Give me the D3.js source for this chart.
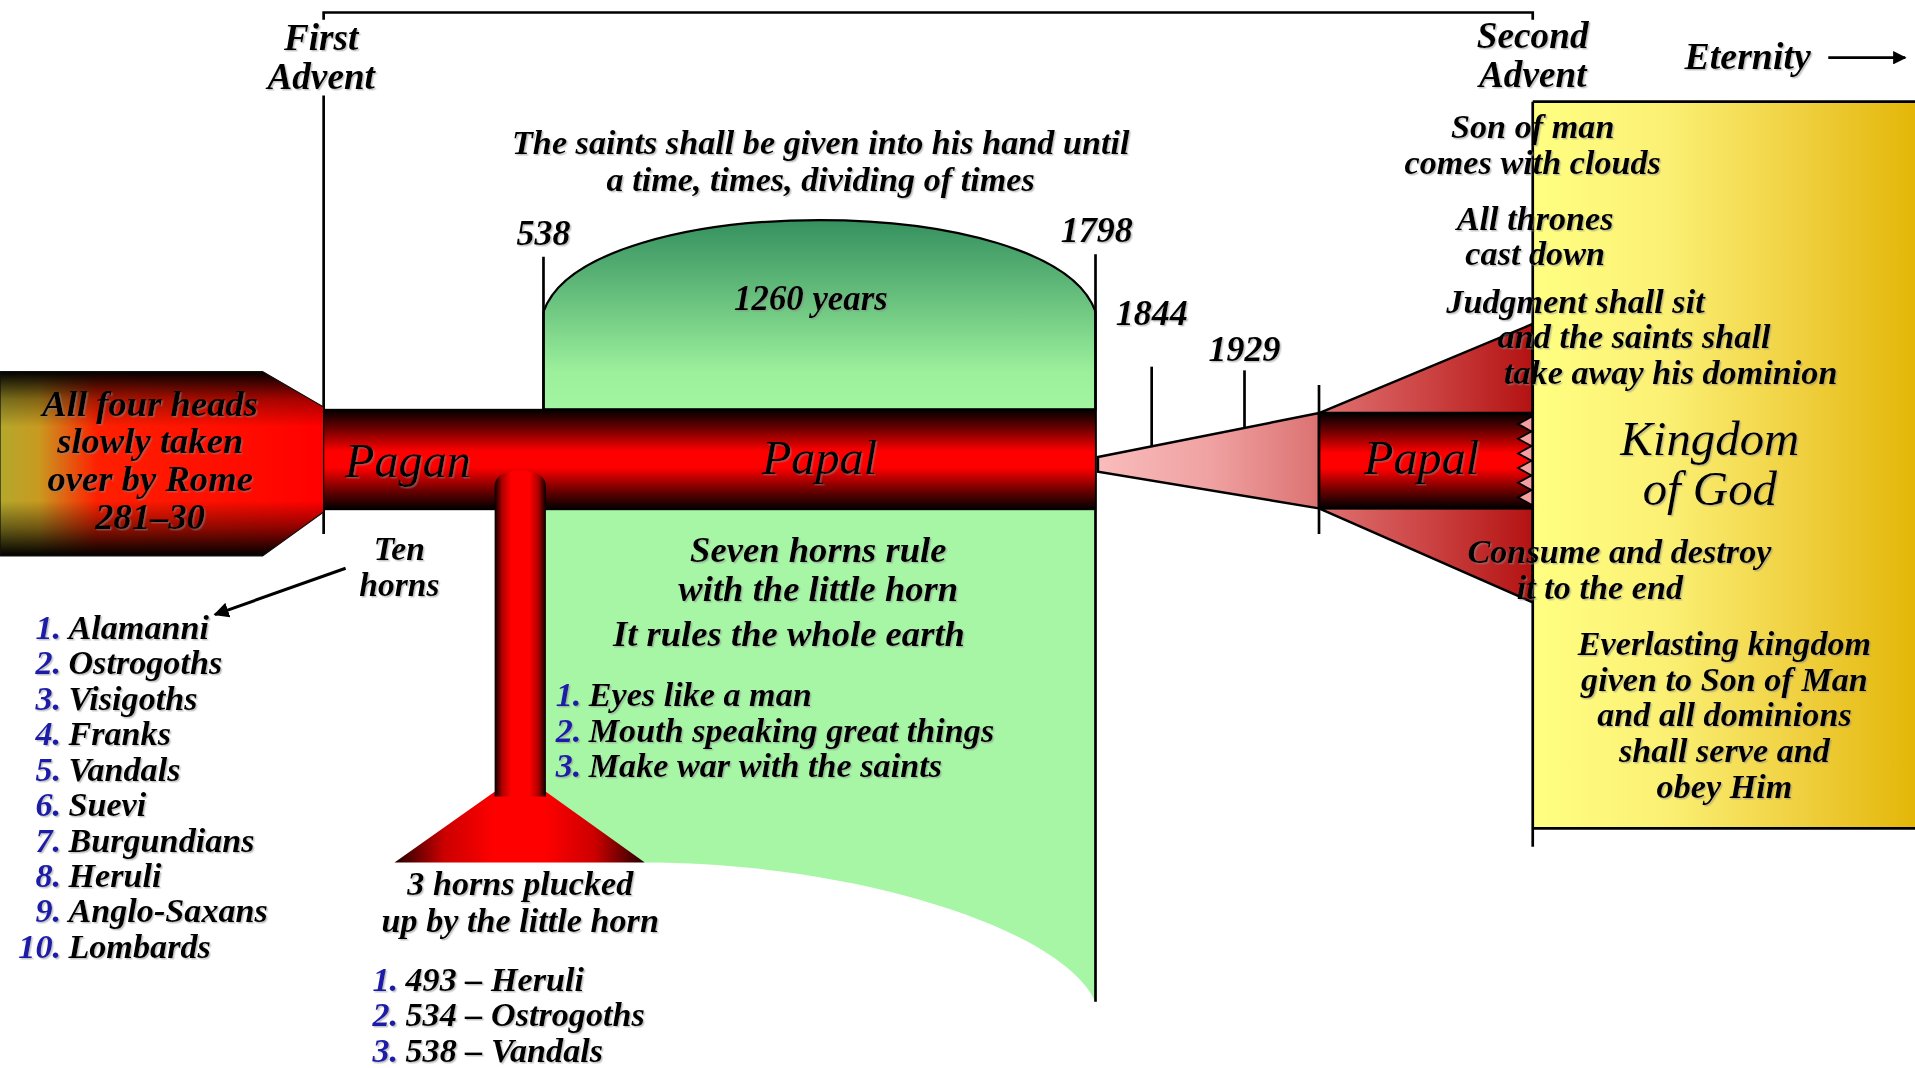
<!DOCTYPE html>
<meta charset="utf-8">
<style>
body { margin: 0; background: #fff; }
text {
  font-family: "Liberation Serif", "Times New Roman", serif;
  font-style: italic;
  font-weight: bold;
}
.num { fill: #1c1ca8; }
</style>
<body>
<script src="https://cdn.jsdelivr.net/npm/d3@7"></script>
<script>

// timeline milestones, left to right
var milestones = ["First Advent", "538", "1798", "1844", "1929", "Judgment", "Second Advent"];
var yearLabels = ["538", "1798", "1844", "1929"];

var tenHorns = ["Alamanni", "Ostrogoths", "Visigoths", "Franks", "Vandals",
  "Suevi", "Burgundians", "Heruli", "Anglo-Saxans", "Lombards"];
var pluckedHorns = ["493 \u2013 Heruli", "534 \u2013 Ostrogoths", "538 \u2013 Vandals"];
var hornTraits = ["Eyes like a man", "Mouth speaking great things", "Make war with the saints"];

var headsText = ["All four heads", "slowly taken", "over by Rome", "281\u201330"];
var saintsText = ["The saints shall be given into his hand until", "a time, times, dividing of times"];
var sevenText = ["Seven horns rule", "with the little horn"];
var everlasting = ["Everlasting kingdom", "given to Son of Man", "and all dominions", "shall serve and", "obey Him"];

// the drawing is not to scale, so the timeline is a piecewise ordinal scale
var x = d3.scaleOrdinal().domain(milestones).range([265, 445, 897, 943, 1019, 1080, 1255]);

var W = 1568, H = 874;
var svg = d3.select("body").append("svg")
    .attr("width", 1915).attr("height", 1068)
    .attr("viewBox", "0 0 " + W + " " + H);

var defs = svg.append("defs");

function grad(id, vertical, stops) {
  var g = defs.append("linearGradient").attr("id", id)
    .attr("x1", 0).attr("y1", 0)
    .attr("x2", vertical ? 0 : 1).attr("y2", vertical ? 1 : 0);
  stops.forEach(function(s) {
    g.append("stop").attr("offset", s[0]).attr("stop-color", s[1])
      .attr("stop-opacity", s[2] == null ? 1 : s[2]);
  });
}
grad("bar", true, [[0, "#000"], [0.18, "#600"], [0.42, "#f00"], [0.58, "#f00"], [0.82, "#600"], [1, "#000"]]);
grad("stem", false, [[0, "#000"], [0.14, "#a00"], [0.32, "#f00"], [0.68, "#f00"], [0.86, "#a00"], [1, "#000"]]);
grad("tri", false, [[0, "#200"], [0.2, "#c00"], [0.4, "#f00"], [0.6, "#f00"], [0.8, "#c00"], [1, "#200"]]);
grad("heads", false, [[0, "#b4a82c"], [0.12, "#c89a20"], [0.3, "#ff2000"], [1, "#ff0000"]]);
grad("headsShade", true, [[0, "#000", 1], [0.15, "#000", 0.35], [0.3, "#000", 0], [0.7, "#000", 0], [0.85, "#000", 0.45], [1, "#000", 1]]);
grad("dome", true, [[0, "#35905f"], [0.4, "#66bf7c"], [0.8, "#9cf09c"], [1, "#a2f6a2"]]);
grad("cone", false, [[0, "#f9bcbc"], [0.5, "#f0a2a2"], [1, "#dc7272"]]);
grad("redTri", false, [[0, "#e07272"], [0.5, "#cc4444"], [1, "#b41212"]]);
grad("gold", false, [[0, "#ffff82"], [0.35, "#fbf074"], [0.7, "#f0d040"], [1, "#e3b608"]]);

var marker = defs.append("marker").attr("id", "arrow")
    .attr("viewBox", "0 0 10 10").attr("refX", 9).attr("refY", 5)
    .attr("markerWidth", 5).attr("markerHeight", 5).attr("orient", "auto");
marker.append("path").attr("d", "M0,0L10,5L0,10z").attr("fill", "#000");

var shadow = defs.append("filter").attr("id", "shadow")
    .attr("x", "-5%").attr("y", "-20%").attr("width", "110%").attr("height", "140%");
shadow.append("feDropShadow").attr("dx", 1.2).attr("dy", 1.2).attr("stdDeviation", 0.6)
    .attr("flood-color", "#888").attr("flood-opacity", 0.5);

var barTop = 335, barBot = 417;
var x0 = x("First Advent"), x538 = x("538"), x1798 = x("1798"),
    xJ = x("Judgment"), x2 = x("Second Advent");

// green dome (1260 years)
svg.append("path")
    .attr("d", "M" + x538 + "," + barTop + "V255C" + (x538 + 35) + ",155 " + (x1798 - 35) + ",155 " + x1798 + ",255V" + barTop + "Z")
    .attr("fill", "url(#dome)").attr("stroke", "#000").attr("stroke-width", 1.8);

// light green region under the papal bar
var stemL = 405, stemR = 447;
svg.append("path")
    .attr("d", "M" + stemR + "," + barBot + "H" + x1798 + "V820C870,760 700,706 528,706L" + stemR + ",650Z")
    .attr("fill", "#a6f6a6");

// yellow kingdom box
svg.append("rect").attr("x", x2).attr("y", 83).attr("width", W - x2).attr("height", 595)
    .attr("fill", "url(#gold)");

// vertical guide lines
var lines = svg.append("g").attr("stroke", "#000").attr("stroke-width", 2.2);
lines.append("path").attr("fill", "none").attr("d", "M" + x0 + ",16V10H" + x2 + "V16");
lines.append("line").attr("x1", x0).attr("x2", x0).attr("y1", 78).attr("y2", 437);
lines.append("line").attr("x1", x538).attr("x2", x538).attr("y1", 210).attr("y2", barTop);
lines.append("line").attr("x1", x1798).attr("x2", x1798).attr("y1", 208).attr("y2", 820);
lines.append("line").attr("x1", x2).attr("x2", W).attr("y1", 83).attr("y2", 83);
lines.append("line").attr("x1", x2).attr("x2", W).attr("y1", 678).attr("y2", 678);

// four heads
var headsPath = "M0,304H215L" + x0 + "," + (barTop - 2) + "V" + (barBot + 2) + "L215,455H0Z";
svg.append("path").attr("d", headsPath).attr("fill", "url(#heads)");
svg.append("path").attr("d", headsPath).attr("fill", "url(#headsShade)")
    .attr("stroke", "#111").attr("stroke-width", 1);

// main bar: pagan + papal
svg.append("rect").attr("x", x0).attr("y", barTop).attr("width", x1798 - x0).attr("height", barBot - barTop)
    .attr("fill", "url(#bar)").attr("stroke", "#000").attr("stroke-width", 1);

// little horn stem and base
svg.append("path")
    .attr("d", "M" + stemL + ",648H" + stemR + "L528,706H323Z")
    .attr("fill", "url(#tri)");
svg.append("path")
    .attr("d", "M" + stemL + ",652V398Q" + stemL + ",386 426,385Q" + stemR + ",386 " + stemR + ",398V652Z")
    .attr("fill", "url(#stem)");

// cone from 1798 to judgment
var coneTop = 338, coneBot = 416;
svg.append("path")
    .attr("d", "M" + (x1798 + 2) + ",374L" + xJ + "," + coneTop + "V" + coneBot + "L" + (x1798 + 2) + ",386Z")
    .attr("fill", "url(#cone)").attr("stroke", "#000").attr("stroke-width", 2);

// dominion taken away: red wedges
svg.append("path")
    .attr("d", "M" + xJ + "," + coneTop + "L" + x2 + ",265V" + coneTop + "Z")
    .attr("fill", "url(#redTri)").attr("stroke", "#000").attr("stroke-width", 2);
svg.append("path")
    .attr("d", "M" + xJ + "," + coneBot + "L" + x2 + ",493V" + coneBot + "Z")
    .attr("fill", "url(#redTri)").attr("stroke", "#000").attr("stroke-width", 2);

// second papal bar with broken edge
svg.append("rect").attr("x", xJ).attr("y", coneTop).attr("width", x2 - xJ).attr("height", coneBot - coneTop)
    .attr("fill", "url(#bar)").attr("stroke", "#000").attr("stroke-width", 1.5);
var zig = d3.range(0, 13).map(function(i) {
  return [i % 2 ? x2 - 12 : x2 - 1, coneTop + 3 + i * (coneBot - coneTop - 6) / 12];
});
svg.append("path")
    .attr("d", "M" + x2 + "," + (coneTop + 3) + "L" + zig.join("L") + "L" + x2 + "," + (coneBot - 3) + "Z")
    .attr("fill", "#f4a0a0").attr("stroke", "#000").attr("stroke-width", 1.5);

// year ticks
var tickTop = {"1844": 300, "1929": 303};
var coneY = d3.scaleLinear().domain([x1798, xJ]).range([374, coneTop]);
["1844", "1929"].forEach(function(k) {
  lines.append("line").attr("x1", x(k)).attr("x2", x(k)).attr("y1", tickTop[k]).attr("y2", coneY(x(k)) + 3);
});
svg.append("line").attr("x1", xJ).attr("x2", xJ).attr("y1", 315).attr("y2", 437)
    .attr("stroke", "#000").attr("stroke-width", 2.2);
svg.append("line").attr("x1", x2).attr("x2", x2).attr("y1", 83).attr("y2", 693)
    .attr("stroke", "#000").attr("stroke-width", 2.2);

// arrows
svg.append("line").attr("x1", 283).attr("y1", 465).attr("x2", 176).attr("y2", 503)
    .attr("stroke", "#000").attr("stroke-width", 2.5).attr("marker-end", "url(#arrow)");
svg.append("line").attr("x1", 1497).attr("y1", 47).attr("x2", 1560).attr("y2", 47)
    .attr("stroke", "#000").attr("stroke-width", 2.2).attr("marker-end", "url(#arrow)");

// ---- text ----
var T = svg.append("g").attr("filter", "url(#shadow)");

function block(lns, cx, y, dy, size, opt) {
  opt = opt || {};
  var t = T.append("text").attr("font-size", size)
      .attr("text-anchor", opt.anchor || "middle")
      .style("font-weight", opt.normal ? "normal" : "bold");
  lns.forEach(function(s, i) {
    t.append("tspan").attr("x", cx).attr("y", y + i * dy).text(s);
  });
  return t;
}
function list(items, nx, y, dy, size) {
  items.forEach(function(s, i) {
    T.append("text").attr("class", "num").attr("x", nx).attr("y", y + i * dy)
      .attr("text-anchor", "end").attr("font-size", size).text((i + 1) + ".");
    T.append("text").attr("x", nx + 6).attr("y", y + i * dy)
      .attr("font-size", size).text(s);
  });
}

block(["First", "Advent"], x0 - 2, 41, 32, 30.5);
block(["Second", "Advent"], x2, 39, 32, 30.5);
block(["Eternity"], 1431, 56, 0, 31);

block(saintsText, 672, 126, 30, 28);
yearLabels.forEach(function(k, i) {
  var yy = [200, 198, 266, 295][i];
  block([k], x(k) + (k === "1798" ? 1 : 0), yy, 0, 29.5);
});
block(["1260 years"], 664, 254, 0, 28.5);

block(headsText, 123, 340, 31, 30);
block(["Pagan"], 334, 390, 0, 39.5, {normal: true});
block(["Papal"], 671, 388, 0, 39.5, {normal: true});
block(["Papal"], 1164, 388, 0, 39.5, {normal: true});

block(["Ten", "horns"], 327, 458, 30, 27.5);
list(tenHorns, 50, 523, 29, 28);

block(sevenText, 670, 460, 32, 30);
block(["It rules the whole earth"], 646, 529, 0, 30);
list(hornTraits, 476, 578, 29, 28);

block(["3 horns plucked", "up by the little horn"], 426, 733, 30, 28);
list(pluckedHorns, 326, 811, 29, 28);

block(["Son of man", "comes with clouds"], 1255, 113, 29, 28);
block(["All thrones", "cast down"], 1257, 188, 29, 28);
block(["Judgment shall sit"], 1290, 256, 0, 28);
block(["and the saints shall"], 1338, 285, 0, 28);
block(["take away his dominion"], 1368, 314, 0, 28);
block(["Kingdom", "of God"], 1400, 372, 41, 40, {normal: true});
block(["Consume and destroy"], 1326, 461, 0, 28);
block(["it to the end"], 1310, 490, 0, 28);
block(everlasting, 1412, 536, 29.3, 28);

</script>
</body>
